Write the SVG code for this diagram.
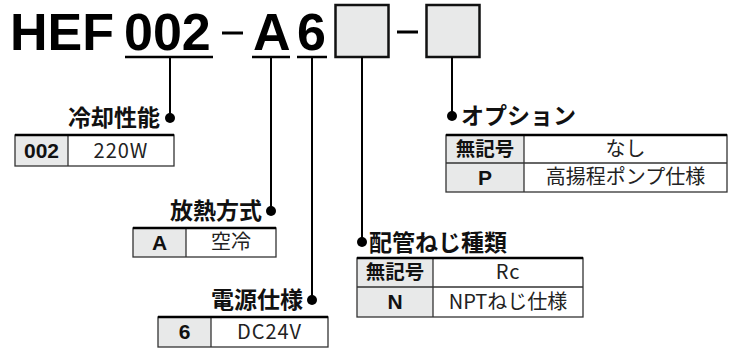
<svg xmlns="http://www.w3.org/2000/svg" width="742" height="349" viewBox="0 0 742 349">
<style>
.hdr{font-family:"Liberation Sans",Arial,sans-serif;font-weight:bold;font-size:52px;fill:#000}
.ttl{font-family:"Noto Sans CJK JP",sans-serif;font-weight:bold;font-size:23px;fill:#111}
.k{font-family:"Liberation Sans","Noto Sans CJK JP",sans-serif;font-weight:bold;font-size:21px;fill:#111;text-anchor:middle}
.kj{font-family:"Noto Sans CJK JP",sans-serif;font-weight:bold;font-size:19.5px;fill:#111;text-anchor:middle}
.v{font-family:"Noto Sans CJK JP",sans-serif;font-size:20px;fill:#222;text-anchor:middle}
.vl{font-family:"Noto Sans CJK JP",sans-serif;font-size:20px;fill:#222;text-anchor:middle;letter-spacing:1px}
.kc{fill:#e8e9e9}
.bd{fill:none;stroke:#333;stroke-width:1.3}
.tb{stroke:#000;stroke-width:2.5}
.ln{stroke:#000;stroke-width:2;fill:none}
.ul{stroke:#000;stroke-width:2.5}
.box{fill:#e8e9e9;stroke:#111;stroke-width:2.5}
</style>
<g id="header">
<text class="hdr" x="10" y="50">HEF</text>
<text class="hdr" x="124" y="50">002</text>
<text class="hdr" x="253" y="50">A</text>
<text class="hdr" x="297" y="50">6</text>
<line class="ul" x1="125" y1="57" x2="213" y2="57"/>
<line class="ul" x1="252" y1="57" x2="290" y2="57"/>
<line class="ul" x1="297" y1="57" x2="327" y2="57"/>
<line x1="222" y1="33" x2="243" y2="33" stroke="#000" stroke-width="3"/>
<line x1="397" y1="32" x2="418" y2="32" stroke="#000" stroke-width="3"/>
<rect class="box" x="335.5" y="5" width="53" height="52"/>
<rect class="box" x="426.5" y="5" width="53" height="52"/>
</g>
<g id="connectors">
<line class="ln" x1="170" y1="57" x2="170" y2="118"/>
<line class="ln" x1="271" y1="57" x2="271" y2="211"/>
<line class="ln" x1="312" y1="57" x2="312" y2="300"/>
<line class="ln" x1="362" y1="57" x2="362" y2="242"/>
<line class="ln" x1="452" y1="57" x2="452" y2="116"/>
<circle cx="170" cy="118" r="5"/>
<circle cx="271" cy="211" r="5"/>
<circle cx="312" cy="300" r="5"/>
<circle cx="362" cy="242" r="5"/>
<circle cx="452" cy="116" r="5"/>
</g>
<g id="cooling">
<text class="ttl" x="160" y="126" text-anchor="end">冷却性能</text>
<rect class="kc" x="15" y="135" width="53" height="31"/>
<rect class="bd" x="15" y="135" width="159" height="31"/>
<line class="bd" x1="68" y1="135" x2="68" y2="166"/>
<line class="tb" x1="15" y1="135" x2="174" y2="135"/>
<text class="k" x="41.5" y="158">002</text>
<text class="vl" x="121" y="158">220W</text>
</g>
<g id="radiation">
<text class="ttl" x="262" y="219" text-anchor="end">放熱方式</text>
<rect class="kc" x="133" y="228" width="53" height="29"/>
<rect class="bd" x="133" y="228" width="143" height="29"/>
<line class="bd" x1="186" y1="228" x2="186" y2="257"/>
<line class="tb" x1="133" y1="228" x2="276" y2="228"/>
<text class="k" x="159.5" y="250">A</text>
<text class="v" x="231" y="249">空冷</text>
</g>
<g id="power">
<text class="ttl" x="303" y="308" text-anchor="end">電源仕様</text>
<rect class="kc" x="158" y="317" width="53" height="30"/>
<rect class="bd" x="158" y="317" width="170" height="30"/>
<line class="bd" x1="211" y1="317" x2="211" y2="347"/>
<line class="tb" x1="158" y1="317" x2="328" y2="317"/>
<text class="k" x="184.5" y="339">6</text>
<text class="vl" x="269.5" y="339">DC24V</text>
</g>
<g id="piping">
<text class="ttl" x="369" y="251">配管ねじ種類</text>
<rect class="kc" x="357" y="258" width="76" height="59"/>
<rect class="bd" x="357" y="258" width="226" height="59"/>
<line class="bd" x1="433" y1="258" x2="433" y2="317"/>
<line class="bd" x1="357" y1="287" x2="583" y2="287"/>
<line class="tb" x1="357" y1="258" x2="583" y2="258"/>
<text class="kj" x="395" y="279">無記号</text>
<text class="vl" x="508" y="279">Rc</text>
<text class="k" x="395" y="309">N</text>
<text class="v" x="508" y="309">NPTねじ仕様</text>
</g>
<g id="option">
<text class="ttl" x="461" y="124">オプション</text>
<rect class="kc" x="446" y="135" width="78" height="57"/>
<rect class="bd" x="446" y="135" width="281" height="57"/>
<line class="bd" x1="524" y1="135" x2="524" y2="192"/>
<line class="bd" x1="446" y1="163" x2="727" y2="163"/>
<line class="tb" x1="446" y1="135" x2="727" y2="135"/>
<text class="kj" x="485" y="156">無記号</text>
<text class="v" x="625.5" y="156">なし</text>
<text class="k" x="485" y="185">P</text>
<text class="v" x="625.5" y="184">高揚程ポンプ仕様</text>
</g>
</svg>
